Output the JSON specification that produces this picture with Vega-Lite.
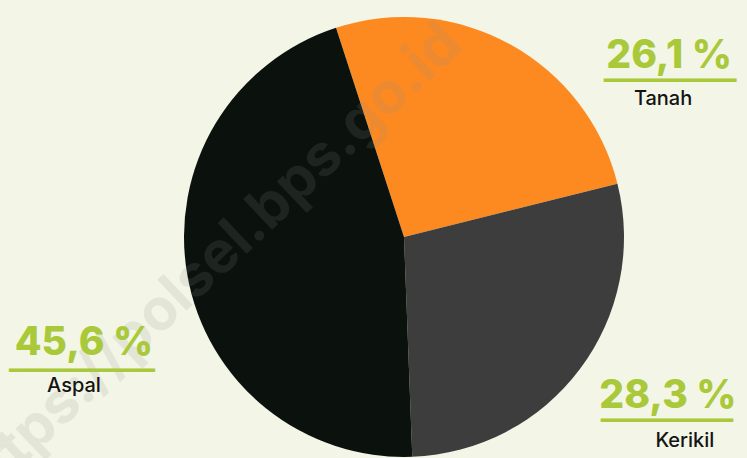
{
  "$schema": "https://vega.github.io/schema/vega-lite/v6.json",
  "width": 440,
  "height": 440,
  "autosize": {"type": "none"},
  "padding": {"left": 184, "top": 17, "right": 123, "bottom": 1},
  "background": "#f3f6e6",
  "view": {"stroke": null},
  "data": {
    "values": [
      {"jenis": "Tanah", "persen": 26.1, "label": "26,1 %", "urutan": 1},
      {"jenis": "Kerikil", "persen": 28.3, "label": "28,3 %", "urutan": 2},
      {"jenis": "Aspal", "persen": 45.6, "label": "45,6 %", "urutan": 3}
    ]
  },
  "layer": [
    {
      "mark": {"type": "arc", "outerRadius": 220},
      "encoding": {
        "theta": {"field": "persen", "type": "quantitative", "stack": true, "scale": {"range": [-0.314, 5.969]}},
        "order": {"field": "urutan", "type": "quantitative"},
        "color": {
          "field": "jenis",
          "type": "nominal",
          "scale": {"domain": ["Tanah", "Kerikil", "Aspal"], "range": ["#fd8a21", "#3d3d3d", "#0b120e"]},
          "legend": null
        }
      }
    },
    {
      "data": {"values": [{"wm": "https://polsel.bps.go.id"}]},
      "mark": {
        "type": "text",
        "angle": 316.6,
        "font": "Inter",
        "fontWeight": "bold",
        "fontSize": 58,
        "fill": "#8a8a8a",
        "opacity": 0.15,
        "align": "center",
        "baseline": "middle",
        "dx": -160,
        "dy": -113
      },
      "encoding": {"text": {"field": "wm"}}
    },
    {
      "mark": {
        "type": "text",
        "radius": 320,
        "font": "Inter",
        "fontWeight": 800,
        "fontSize": 39,
        "letterSpacing": 1,
        "fill": "#a9c93a",
        "align": "center",
        "baseline": "alphabetic",
        "dx": {"expr": "datum.jenis === 'Tanah' ? 110 : datum.jenis === 'Kerikil' ? 8 : -5"},
        "dy": {"expr": "datum.jenis === 'Tanah' ? 111 : datum.jenis === 'Kerikil' ? -21 : 62"}
      },
      "encoding": {
        "theta": {"field": "persen", "type": "quantitative", "stack": true},
        "order": {"field": "urutan", "type": "quantitative"},
        "text": {"field": "label"}
      }
    },
    {
      "mark": {
        "type": "text",
        "radius": 320,
        "font": "DejaVu Sans",
        "fontSize": 22,
        "fill": "#a9c93a",
        "align": "center",
        "baseline": "middle",
        "text": {"expr": "datum.jenis === 'Aspal' ? '━━━━━━━━━━━' : '━━━━━━━━━━'"},
        "dx": {"expr": "datum.jenis === 'Tanah' ? 111 : datum.jenis === 'Kerikil' ? 7 : -7"},
        "dy": {"expr": "datum.jenis === 'Tanah' ? 124 : datum.jenis === 'Kerikil' ? -8 : 78"}
      },
      "encoding": {
        "theta": {"field": "persen", "type": "quantitative", "stack": true},
        "order": {"field": "urutan", "type": "quantitative"}
      }
    },
    {
      "mark": {
        "type": "text",
        "radius": 320,
        "font": "Inter",
        "fontWeight": 500,
        "fontSize": 20,
        "letterSpacing": 1.5,
        "fill": "#141414",
        "align": "center",
        "baseline": "alphabetic",
        "dx": {"expr": "datum.jenis === 'Tanah' ? 104 : datum.jenis === 'Kerikil' ? 25 : -15"},
        "dy": {"expr": "datum.jenis === 'Tanah' ? 148 : datum.jenis === 'Kerikil' ? 18 : 99"}
      },
      "encoding": {
        "theta": {"field": "persen", "type": "quantitative", "stack": true},
        "order": {"field": "urutan", "type": "quantitative"},
        "text": {"field": "jenis"}
      }
    }
  ]
}
